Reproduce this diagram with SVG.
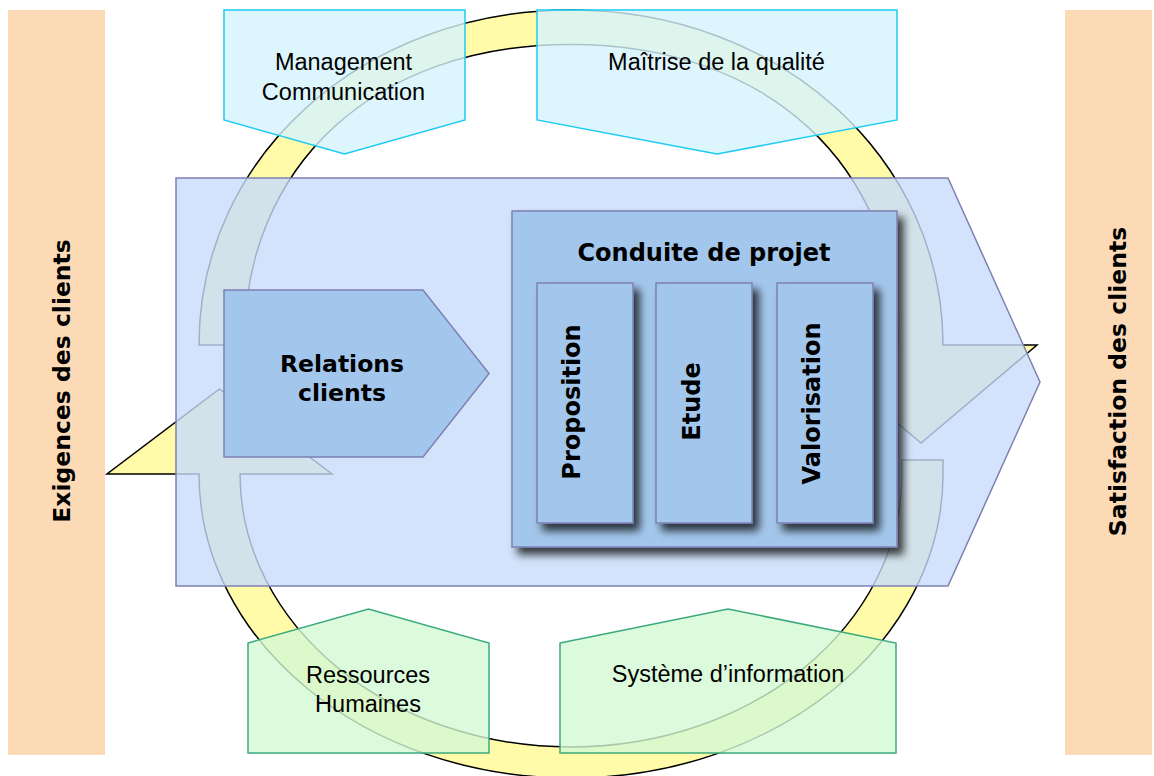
<svg xmlns="http://www.w3.org/2000/svg" width="1154" height="776" viewBox="0 0 1154 776">
<defs>
<style>
.bar{fill:#FDDAB6}
.bold{font-family:"DejaVu Sans","Liberation Sans",sans-serif;font-weight:bold;fill:#000;text-anchor:middle}
.reg{font-family:"Liberation Sans","DejaVu Sans",sans-serif;font-size:23.5px;fill:#000;text-anchor:middle}
.cyan{fill:#D4F4FC;fill-opacity:0.8;stroke:#1ECBF2;stroke-width:1.5}
.green{fill:#D3F9D3;fill-opacity:0.8;stroke:#3AAA7C;stroke-width:1.5}
.big{fill:#C8DCFA;fill-opacity:0.8;stroke:#7E80B2;stroke-width:1.5}
.box{fill:#A3C7EC;stroke:#7E80B2;stroke-width:1.5}
.ring{fill:#FFFBA8;stroke:#000;stroke-width:1.5;stroke-linejoin:miter}
</style>
<filter id="shadow" x="-10%" y="-10%" width="130%" height="130%">
<feDropShadow dx="6" dy="7" stdDeviation="4" flood-color="#000" flood-opacity="0.75"/>
</filter>
</defs>
<rect width="1154" height="776" fill="#fff"/>

<g id="exigences">
<rect class="bar" x="8" y="10" width="97" height="745"/>
<text class="bold" font-size="23.5" transform="translate(70,381) rotate(-90)">Exigences des clients</text>
</g>
<g id="satisfaction">
<rect class="bar" x="1065" y="10" width="87" height="745"/>
<text class="bold" font-size="23.5" transform="translate(1126,381.5) rotate(-90)">Satisfaction des clients</text>
</g>

<g id="connectors">
<path class="ring" d="M199,345 C199,157.4 362.7,10 571,10 C779.3,10 943,157.4 943,345 L1037,345 L921,443 L805,345 L898,345 C898,164.7 767.2,44.5 571,44.5 C374.8,44.5 244,164.7 244,345 Z"/>
<path class="ring" d="M943,460 L943,474 C943,641.9 776.5,778 571,778 C365.5,778 199,641.9 199,474 L107,474 L219.5,389 L332,474 L240,474 C240,624.8 388.2,747 571,747 C753.8,747 902,624.8 902,474 L902,460 Z"/>
</g>

<g id="management">
<path class="cyan" d="M224,10 L465,10 L465,120 L344.5,154 L224,120 Z"/>
<text class="reg" x="343.5" y="70">Management</text>
<text class="reg" x="343.5" y="99.5">Communication</text>
</g>
<g id="qualite">
<path class="cyan" d="M537,10 L897,10 L897,120 L717,154 L537,120 Z"/>
<text class="reg" x="716.5" y="70">Maîtrise de la qualité</text>
</g>
<g id="ressources">
<path class="green" d="M248,643 L368.5,609 L489,643 L489,753 L248,753 Z"/>
<text class="reg" x="368" y="683">Ressources</text>
<text class="reg" x="368" y="712">Humaines</text>
</g>
<g id="systeme">
<path class="green" d="M560,643 L728,609 L896,643 L896,753 L560,753 Z"/>
<text class="reg" x="728" y="681.5">Système d’information</text>
</g>

<g id="processus">
<path class="big" d="M176,178 L948,178 L1040,382 L948,586 L176,586 Z"/>
</g>

<g id="relations">
<path class="box" d="M224,290 L423,290 L489,373.5 L423,457 L224,457 Z"/>
<text class="bold" font-size="23.5" x="342" y="372">Relations</text>
<text class="bold" font-size="23.5" x="342" y="401">clients</text>
</g>

<g id="conduite">
<rect class="box" x="512" y="211" width="385" height="336" filter="url(#shadow)"/>
<text class="bold" font-size="24" x="704" y="261">Conduite de projet</text>
</g>
<g id="proposition">
<rect class="box" x="537" y="283" width="96" height="240" filter="url(#shadow)"/>
<text class="bold" font-size="24" transform="translate(580,402) rotate(-90)">Proposition</text>
</g>
<g id="etude">
<rect class="box" x="656" y="283" width="96" height="240" filter="url(#shadow)"/>
<text class="bold" font-size="24" transform="translate(700,401.5) rotate(-90)">Etude</text>
</g>
<g id="valorisation">
<rect class="box" x="777" y="283" width="96" height="240" filter="url(#shadow)"/>
<text class="bold" font-size="24" transform="translate(819.5,403.5) rotate(-90)">Valorisation</text>
</g>
</svg>
